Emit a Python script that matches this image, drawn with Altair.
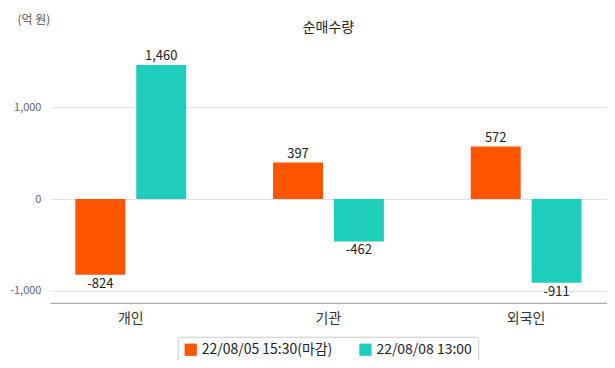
import altair as alt
import pandas as pd

categories = ["개인", "기관", "외국인"]
series = ["22/08/05 15:30(마감)", "22/08/08 13:00"]
series1_values = [-824, 397, 572]
series2_values = [1460, -462, -911]
colors = ["#FF5500", "#1FCDBC"]

rows = []
for si, (name, vals) in enumerate([(series[0], series1_values), (series[1], series2_values)]):
    for c, v in zip(categories, vals):
        rows.append({"cat": c, "series": name, "value": v, "label": f"{v:,}"})
df = pd.DataFrame(rows)

FONT = "Noto Sans CJK KR"

x = alt.X("cat:N", sort=categories,
          scale=alt.Scale(paddingInner=0.182, paddingOuter=0),
          axis=alt.Axis(title=None, labelAngle=0, ticks=False, domainColor="#999999", grid=False,
                        labelFontSize=14, labelColor="#333333", labelPadding=9, labelFont=FONT))
xo = alt.XOffset("series:N", sort=series, scale=alt.Scale(paddingInner=0.18, paddingOuter=0.418))
y = alt.Y("value:Q", scale=alt.Scale(domain=[-1130, 1730], nice=False, zero=False),
          axis=alt.Axis(title="(억 원)", titleAngle=0, titleX=-33, titleY=-26, titleAlign="left",
                        titleBaseline="top",
                        titleFontSize=12, titleFontWeight="normal", titleColor="#555555", titleFont=FONT,
                        values=[-1000, 0, 1000], domain=False, ticks=False, gridColor="#e0e0e0",
                        labelFontSize=11, labelColor="#666666", labelPadding=9, labelFont=FONT,
                        labelExpr="replace(datum.label, '\u2212', '-')"))

color = alt.Color("series:N", sort=series, scale=alt.Scale(domain=series, range=colors),
                  legend=alt.Legend(title=None, orient="none", legendX=128, legendY=297,
                                    direction="horizontal", symbolType="square", symbolSize=150,
                                    symbolStrokeWidth=0, symbolOpacity=1,
                                    labelFontSize=14, labelColor="#222222", labelFont=FONT,
                                    columnPadding=26, padding=6, strokeColor="#cccccc",
                                    cornerRadius=3, fillColor="white"))

bars = alt.Chart(df).mark_bar(size=50).encode(x=x, xOffset=xo, y=y, color=color)
pos = alt.Chart(df).transform_filter("datum.value >= 0").mark_text(
    baseline="bottom", dy=-2, fontSize=13, color="#222222", font=FONT
).encode(x=x, xOffset=xo, y=y, text="label:N")
neg = alt.Chart(df).transform_filter("datum.value < 0").mark_text(
    baseline="top", dy=3, fontSize=13, color="#222222", font=FONT
).encode(x=x, xOffset=xo, y=y, text="label:N")

chart = alt.layer(bars, pos, neg).properties(
    width=558, height=263,
    background="white",
    title=alt.TitleParams("순매수량", fontSize=14, fontWeight="normal", color="#222222",
                          font=FONT, anchor="middle", offset=12, dy=34),
    autosize=alt.AutoSizeParams(type="none"),
    padding={"left": 42, "top": 32, "right": 0, "bottom": 57},
).configure_view(strokeWidth=0, stroke="transparent")

chart.save("out.html", embed_options={"renderer": "svg", "actions": False})
